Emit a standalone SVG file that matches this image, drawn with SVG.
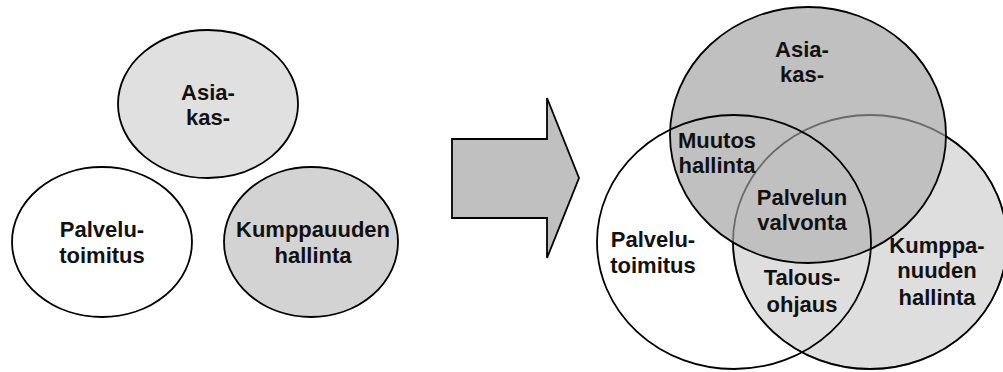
<svg xmlns="http://www.w3.org/2000/svg" width="1003" height="372" viewBox="0 0 1003 372">
  <style>
    .shape { stroke: #000; stroke-width: 1.8; }
    .lbl { font-family: "Liberation Sans", Arial, sans-serif; font-size: 22px; font-weight: bold; fill: #111; text-anchor: middle; }
  </style>
  <rect width="1003" height="372" fill="#fff"/>

  <!-- Separate areas before merging -->
  <g id="asiakas-left">
    <ellipse class="shape" cx="208" cy="104" rx="90" ry="74" fill="#e0e0e0"/>
    <text class="lbl" x="208" y="100">Asia-</text>
    <text class="lbl" x="208" y="125">kas-</text>
  </g>
  <g id="palvelutoimitus-left">
    <ellipse class="shape" cx="102" cy="242" rx="90" ry="75" fill="#fff"/>
    <text class="lbl" x="102" y="237">Palvelu-</text>
    <text class="lbl" x="102" y="263">toimitus</text>
  </g>
  <g id="kumppanuus-left">
    <ellipse class="shape" cx="311" cy="242" rx="87" ry="75" fill="#d3d3d3"/>
    <text class="lbl" x="313" y="237">Kumppauuden</text>
    <text class="lbl" x="313" y="263">hallinta</text>
  </g>

  <!-- Transition arrow -->
  <g id="connectors">
    <polygon class="shape" points="452,139 547,139 547,98 579,178 547,258 547,218 452,218" fill="#c0c0c0" stroke-linejoin="miter"/>
  </g>

  <!-- Overlapping areas -->
  <g id="kumppanuus-right">
    <ellipse class="shape" cx="870" cy="242" rx="137" ry="127" fill="#dedede"/>
  </g>
  <g id="asiakas-right">
    <ellipse class="shape" cx="808" cy="135" rx="138" ry="128" fill="#c0c0c0"/>
    <!-- partner outline showing through the customer area -->
    <ellipse cx="870" cy="242" rx="137" ry="127" fill="none" stroke="#000" stroke-width="1.8" stroke-opacity="0.45"/>
  </g>
  <g id="palvelutoimitus-right">
    <ellipse class="shape" cx="734" cy="242" rx="137" ry="127" fill="none"/>
  </g>

  <g id="labels-right">
    <text class="lbl" x="802" y="57">Asia-</text>
    <text class="lbl" x="802" y="82">kas-</text>
    <text class="lbl" x="717" y="148">Muutos</text>
    <text class="lbl" x="717" y="173">hallinta</text>
    <text class="lbl" x="802" y="205">Palvelun</text>
    <text class="lbl" x="802" y="230">valvonta</text>
    <text class="lbl" x="653" y="247">Palvelu-</text>
    <text class="lbl" x="653" y="273">toimitus</text>
    <text class="lbl" x="802" y="285">Talous-</text>
    <text class="lbl" x="802" y="312">ohjaus</text>
    <text class="lbl" x="937" y="253">Kumppa-</text>
    <text class="lbl" x="937" y="278">nuuden</text>
    <text class="lbl" x="937" y="305">hallinta</text>
  </g>
</svg>
